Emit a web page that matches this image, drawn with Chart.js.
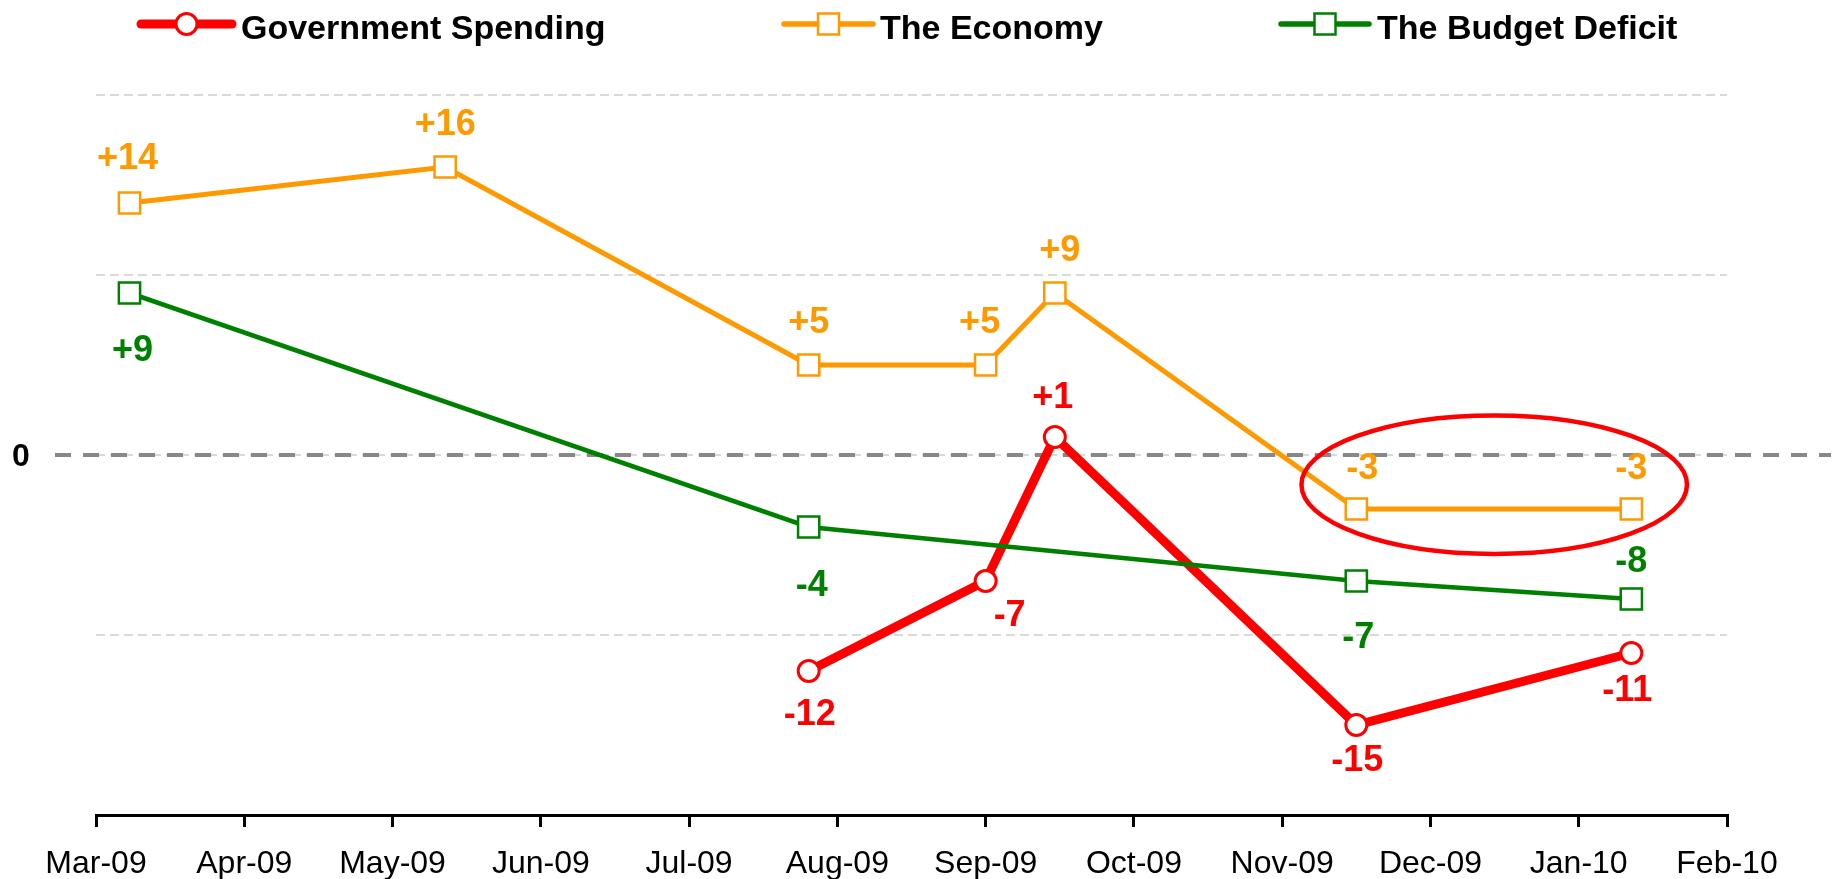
<!DOCTYPE html>
<html lang="en">
<head>
  <meta charset="UTF-8" />
  <title>Government Spending, The Economy, The Budget Deficit</title>
  <script src="https://cdn.jsdelivr.net/npm/chart.js"></script>
  <style>
    html, body { margin: 0; padding: 0; background: #fff; }
    #wrap { width: 1843px; height: 879px; position: relative; }
  </style>
</head>
<body>
  <div id="wrap"><canvas id="trendChart"></canvas></div>

  <script>
// month ticks on the x axis (Mar-09 = 0)
const tickLabels = ['Mar-09', 'Apr-09', 'May-09', 'Jun-09', 'Jul-09', 'Aug-09',
                    'Sep-09', 'Oct-09', 'Nov-09', 'Dec-09', 'Jan-10', 'Feb-10'];

// survey dates and net scores per series
const economyDates = ['2009-03-08', '2009-05-12', '2009-07-26', '2009-09-01', '2009-09-15', '2009-11-16', '2010-01-12'];
const economy = [14, 16, 5, 5, 9, -3, -3];

const deficitDates = ['2009-03-08', '2009-07-26', '2009-11-16', '2010-01-12'];
const budgetDeficit = [9, -4, -7, -8];

const spendingDates = ['2009-07-26', '2009-09-01', '2009-09-15', '2009-11-16', '2010-01-12'];
const govSpending = [-12, -7, 1, -15, -11];

const yTicks = [-20, -10, 0, 10, 20];

const FONT = '"Liberation Sans", Arial, sans-serif';
const RED = '#ff0000', ORANGE = '#ff9900', GREEN = '#008000';

// date string -> months since 1 Mar 2009
function monthPos(s) {
  const [y, m, d] = s.split('-').map(Number);
  const days = new Date(y, m, 0).getDate();
  return (y - 2009) * 12 + (m - 3) + (d - 1) / days;
}
const toPoints = (dates, vals) => dates.map((d, i) => ({ x: monthPos(d), y: vals[i] }));
const fmt = v => (v > 0 ? '+' + v : String(v));

const extras = {
  id: 'extras',
  beforeDatasetsDraw(chart) {
    const { ctx, scales: { y } } = chart;
    const py = y.getPixelForValue(0);
    ctx.save();
    ctx.strokeStyle = '#888888';
    ctx.lineWidth = 4;
    ctx.setLineDash([16, 12]);
    ctx.beginPath();
    ctx.moveTo(55, py);
    ctx.lineTo(1831, py);
    ctx.stroke();
    ctx.restore();
  },
  afterDatasetsDraw(chart) {
    const { ctx, scales: { x, y } } = chart;
    ctx.save();
    // value labels
    ctx.font = 'bold 36px ' + FONT;
    ctx.textAlign = 'center';
    ctx.textBaseline = 'alphabetic';
    chart.data.datasets.forEach((ds, di) => {
      const meta = chart.getDatasetMeta(di);
      ctx.fillStyle = ds.borderColor;
      meta.data.forEach((pt, i) => {
        const [dx, dy] = ds.labelOffset[i];
        ctx.fillText(fmt(ds.data[i].y), pt.x + dx, pt.y + dy + 36 * 0.358);
      });
    });
    // highlight ellipse
    const cx = x.getPixelForValue(9.43), cy = y.getPixelForValue(-1.65);
    const rx = x.getPixelForValue(9.43 + 1.3) - cx;
    const ry = y.getPixelForValue(-1.65 - 3.85) - cy;
    ctx.strokeStyle = RED;
    ctx.lineWidth = 4.5;
    ctx.beginPath();
    ctx.ellipse(cx, cy, rx, ry, 0, 0, Math.PI * 2);
    ctx.stroke();
    ctx.restore();
  },
  afterDraw(chart) {
    const { ctx, scales: { y } } = chart;
    ctx.save();
    // "0" on the y axis
    ctx.fillStyle = '#000';
    ctx.font = 'bold 32px ' + FONT;
    ctx.textAlign = 'center';
    ctx.fillText('0', 21, y.getPixelForValue(0) + 32 * 0.358);

    // legend
    const items = [
      { text: 'Government Spending', color: RED, width: 9, shape: 'circle', x0: 141, x1: 232, tx: 241 },
      { text: 'The Economy', color: ORANGE, width: 5.5, shape: 'rect', x0: 784, x1: 873, tx: 880 },
      { text: 'The Budget Deficit', color: GREEN, width: 5.5, shape: 'rect', x0: 1281, x1: 1369, tx: 1377 }
    ];
    const ly = 24;
    ctx.textAlign = 'left';
    ctx.font = 'bold 34px ' + FONT;
    items.forEach(it => {
      ctx.strokeStyle = it.color;
      ctx.lineWidth = it.width;
      ctx.lineCap = 'round';
      ctx.beginPath();
      ctx.moveTo(it.x0, ly);
      ctx.lineTo(it.x1, ly);
      ctx.stroke();
      const mx = (it.x0 + it.x1) / 2;
      ctx.fillStyle = '#fff';
      ctx.lineWidth = it.shape === 'circle' ? 3 : 2.5;
      ctx.beginPath();
      if (it.shape === 'circle') ctx.arc(mx, ly, 10.5, 0, Math.PI * 2);
      else ctx.rect(mx - 10.5, ly - 10.5, 21, 21);
      ctx.fill();
      ctx.stroke();
      ctx.fillStyle = '#000';
      ctx.fillText(it.text, it.tx, 26.5 + 34 * 0.358);
    });
    ctx.restore();
  }
};

new Chart(document.getElementById('trendChart'), {
  type: 'line',
  data: {
    datasets: [
      {
        label: 'Government Spending',
        data: toPoints(spendingDates, govSpending),
        borderColor: RED,
        borderWidth: 9,
        pointStyle: 'circle',
        pointRadius: 10.5,
        pointBorderWidth: 3,
        pointBackgroundColor: '#fff',
        pointBorderColor: RED,
        order: 3,
        labelOffset: [[1, 41], [24, 32], [-2, -42], [1, 33], [-4, 35]]
      },
      {
        label: 'The Economy',
        data: toPoints(economyDates, economy),
        borderColor: ORANGE,
        borderWidth: 5,
        pointStyle: 'rect',
        pointRadius: 15,
        pointBorderWidth: 2.5,
        pointBackgroundColor: '#fff',
        pointBorderColor: ORANGE,
        order: 2,
        labelOffset: [[-2, -47], [0, -45], [0, -45], [-6, -45], [5, -45], [6, -43], [0, -43]]
      },
      {
        label: 'The Budget Deficit',
        data: toPoints(deficitDates, budgetDeficit),
        borderColor: GREEN,
        borderWidth: 4.5,
        pointStyle: 'rect',
        pointRadius: 15,
        pointBorderWidth: 2.5,
        pointBackgroundColor: '#fff',
        pointBorderColor: GREEN,
        order: 1,
        labelOffset: [[3, 55], [3, 56], [2, 54], [0, -40]]
      }
    ]
  },
  options: {
    responsive: true,
    maintainAspectRatio: false,
    animation: false,
    tension: 0,
    layout: { padding: { top: 95, right: 116, bottom: 0, left: 0 } },
    plugins: {
      legend: { display: false },
      tooltip: { enabled: false }
    },
    scales: {
      x: {
        type: 'linear',
        min: 0,
        max: tickLabels.length - 1,
        afterFit(s) { s.height = 64; },
        afterBuildTicks(s) { s.ticks = tickLabels.map((_, i) => ({ value: i })); },
        ticks: {
          autoSkip: false,
          maxRotation: 0,
          padding: 18,
          color: '#000',
          font: { family: FONT, size: 32 },
          callback: v => tickLabels[v]
        },
        grid: {
          drawOnChartArea: false,
          drawTicks: true,
          tickLength: 12,
          color: '#000',
          lineWidth: 3
        },
        border: { display: true, color: '#000', width: 3 }
      },
      y: {
        min: yTicks[0],
        max: yTicks[yTicks.length - 1],
        afterFit(s) { s.width = 96; },
        afterBuildTicks(s) { s.ticks = yTicks.map(v => ({ value: v })); },
        ticks: { display: false },
        grid: {
          drawTicks: false,
          lineWidth: 2,
          color: c => (c.tick && c.tick.value === yTicks[0] ? 'rgba(0,0,0,0)' : '#d9d9d9')
        },
        border: { display: false, dash: [9, 5] }
      }
    }
  },
  plugins: [extras]
});
  </script>
</body>
</html>
